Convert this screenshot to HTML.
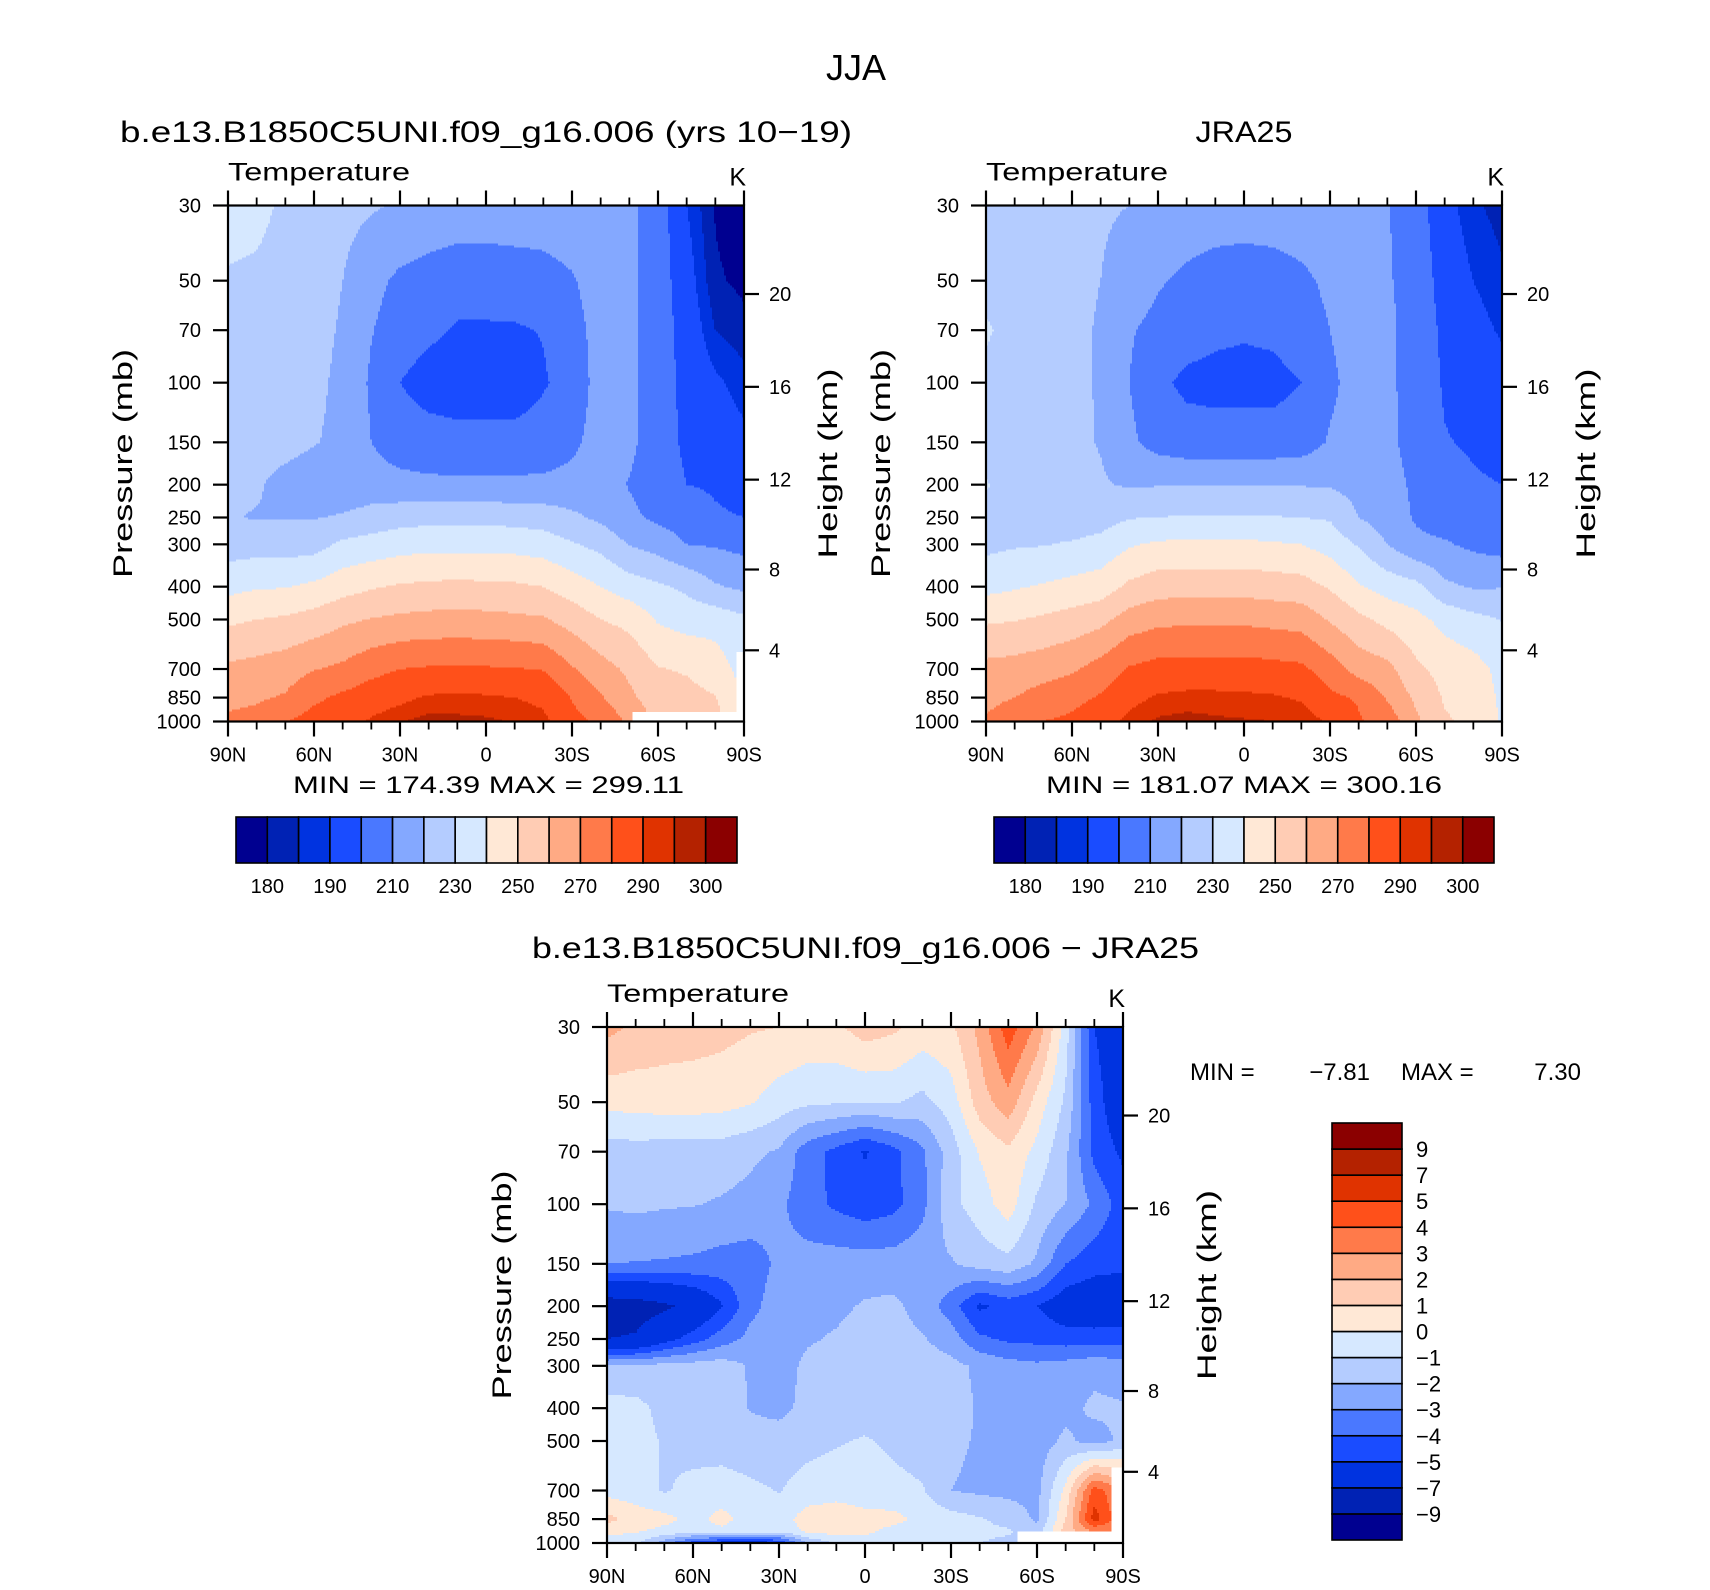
<!DOCTYPE html>
<html>
<head>
<meta charset="utf-8">
<style>
  html,body{margin:0;padding:0;background:#fff;}
  svg{display:block;font-family:"Liberation Sans","DejaVu Sans",sans-serif;}
</style>
</head>
<body>
<svg id="chart" width="1710" height="1590" viewBox="0 0 1710 1590" xmlns="http://www.w3.org/2000/svg">
  <rect x="0" y="0" width="1710" height="1590" fill="#fff"/>
  <text x="856" y="80" font-size="36" text-anchor="middle">JJA</text>
  <text x="120" y="142" font-size="30" textLength="732" lengthAdjust="spacingAndGlyphs">b.e13.B1850C5UNI.f09_g16.006 (yrs 10−19)</text>
  <text x="1244" y="142" font-size="30" text-anchor="middle" textLength="97" lengthAdjust="spacingAndGlyphs">JRA25</text>
  <text x="532" y="958" font-size="30" textLength="667" lengthAdjust="spacingAndGlyphs">b.e13.B1850C5UNI.f09_g16.006 − JRA25</text>
  <text x="293" y="793" font-size="24" textLength="391" lengthAdjust="spacingAndGlyphs">MIN = 174.39   MAX = 299.11</text>
  <text x="1046" y="793" font-size="24" textLength="396" lengthAdjust="spacingAndGlyphs">MIN = 181.07   MAX = 300.16</text>
  <g font-size="24">
    <text x="1190" y="1080">MIN  =</text>
    <text x="1370" y="1080" text-anchor="end">−7.81</text>
    <text x="1401" y="1080">MAX  =</text>
    <text x="1581" y="1080" text-anchor="end">7.30</text>
  </g>
</svg>
<script>
// ---------- data ----------
const lats = [90,80,70,60,50,40,30,20,10,0,-10,-20,-30,-40,-50,-60,-70,-80,-90];
const presAbs = [30,50,70,100,150,200,250,300,400,500,700,850,1000];
const presDiff = [30,50,70,100,150,200,250,300,400,500,700,850,925,1000];

const modelT = [
 [234,233,228,225,223,221,219,217,216,216,216,216,217,218,212,205.5,190,179.5,175],
 [229,228,226,224,220,213,208,206,204,204,205,206,209,215,212,205,194,181,178.5],
 [227,226,225,223,219,210.5,205,202,199,199,199,200.5,206,214,212,205,196,185,182],
 [226,225,224,222,218,208.5,200,196,195,195,195,199,204,214,212,205,197,191.5,187],
 [225,224,223,220.5,218,210,205,204,203,203,203,204.5,208,214,212,205,198,195,192],
 [222,221,217,215,213,214,213,212,212,212,212,212,213,214,209.5,205.5,200,199,197],
 [220.5,219.5,219.6,219.5,221,224,226,227,227,227,226.5,225.5,222,218,212,208,205,201,200],
 [225,226,225.5,226,232,234,236,237,237,237,236.5,235,231,227,219.5,216,210,209,207],
 [237,239,239.5,242,246,249,251,252,252.5,252,251.5,250,245,240,235,231.5,228,221,218],
 [248,250,251.5,254,258,260.5,262,263,263,263,262,261,256,250,247,239,236,236,232],
 [262,263.5,265.5,269.5,272,277,280,281,281.5,281,280.5,279.5,271,264,258,250.5,249,245,236],
 [267,268.5,271,278,282,285.5,288,291,291.5,291,290,288,279.5,271,262,255,253,250.5,240],
 [272,274,279.5,284,287,291,294.5,297,296.5,296,294.5,292,283,278,268,258,257,253,244]
];

const jraT = [
 [225,224.5,223,222,221,220,217,216,215,215,215,216,217,217,210.5,205,193,186,183],
 [227,226,224,222.5,220,216,211,208,206,205,206,208,212,216,211,206,196,190,186],
 [231,227,225,222.5,219,211,207,204,202,201,202,205,210,215,212,206,198,193,189],
 [228,226,225,222.5,219,210,202,198,197,197,197,200,208,214,212,206,199,196,193],
 [227,226,225,222,219.5,212,206,204,204,204,204,205,211,214,212,206.5,200.5,199,197],
 [230.5,227,226,223,221,219,219.5,219.5,219.5,219.5,219.5,219.5,219,216.5,214,208,203,201,200],
 [228,227,226,224,226,229.5,230,231,231,231,230.5,230,229,220,215,209,206,204,202],
 [227.5,229,229.5,231,233,239,241.5,242,242,242,241,240,236,229,220,212,211,208,206],
 [237,239,241,243,245,252,255.5,256,256,256,255,254,249,241,236,233,222,219,219.5],
 [248.5,249.5,251.5,254,257,264.5,267.5,268,268,268,267,266,259,252.5,247,243,237,233,229.5],
 [263,264,266,268.5,274,281,283.5,284,284,284,283,282,275,266,263,252,246.5,244,237],
 [267.5,270,274,277,281,287.5,291,292,292,291.5,291,289,282,279,269,258,249,247,238],
 [271,276,280,282,287,292,296,297,296,295.5,295,294,289,281,276,262,251,248,239]
];

const diffT = [
 [2.3,1.8,1.5,1.4,1.3,1.1,1.0,0.7,0.8,1.5,1.2,0.6,0.8,2.3,4.6,2.8,-0.5,-5,-6],
 [0.3,0.4,0.5,0.5,0.4,0.1,-0.5,-0.8,-0.9,-1.0,-0.9,-1.3,-0.5,1.5,2.6,0.6,-1.2,-4.5,-6],
 [-1.5,-1.4,-1.5,-1.5,-1.5,-1.8,-2.1,-3.6,-4.3,-5.1,-4.3,-3.2,-1.5,0.1,0.8,-0.3,-1.8,-4.3,-5.2],
 [-1.9,-1.8,-1.9,-1.95,-2.1,-2.3,-2.8,-3.6,-4.2,-4.6,-4.3,-3.3,-1.3,-0.5,0.5,-1.2,-2.0,-3.2,-4.5],
 [-3.0,-3.05,-3.1,-3.2,-3.4,-3.5,-2.8,-2.6,-2.5,-2.5,-2.5,-2.3,-2.1,-1.6,-1.3,-2.2,-4.0,-4.6,-4.8],
 [-8.0,-7.8,-7.3,-6.5,-5.1,-3.3,-2.5,-2.3,-2.2,-1.9,-1.8,-2.4,-3.5,-5.2,-4.6,-5.0,-5.8,-6.0,-5.8],
 [-7,-6.8,-5.5,-4.5,-3.5,-2.7,-2.4,-2.1,-1.9,-1.6,-1.6,-1.9,-2.5,-3.8,-4.2,-4.3,-4.5,-4.5,-4.5],
 [-1.9,-1.8,-1.7,-1.6,-1.5,-2.1,-2.4,-1.8,-1.6,-1.5,-1.5,-1.5,-1.7,-2.2,-2.6,-2.8,-2.6,-2.3,-2.5],
 [-0.6,-0.7,-1.3,-1.5,-1.6,-2.05,-2.3,-1.7,-1.6,-1.5,-1.5,-1.5,-1.6,-2.1,-2.4,-2.4,-2.3,-1.8,-1.9],
 [-0.6,-0.6,-1.1,-1.4,-1.5,-1.6,-1.5,-1.3,-1.1,-0.9,-1.2,-1.5,-1.8,-2.1,-2.3,-2.5,-1.8,-2.4,-1.8],
 [-0.4,-0.6,-1.1,-0.7,-0.5,-0.8,-1.05,-0.6,-0.4,-0.5,-0.7,-0.9,-2.0,-2.2,-2.3,-2.3,0.3,4.5,3],
 [1.3,0.6,0.3,-0.3,0.3,-0.4,-0.5,0.5,0.6,0.3,0.3,-0.3,-0.6,-0.9,-1.3,-2.2,1.0,5.5,3],
 [0.3,0.1,-0.3,-0.5,-0.2,-0.6,-0.7,0.2,0.4,0.2,-0.3,-0.5,-0.6,-0.8,-0.9,-1.5,1.5,3,3],
 [-0.5,-0.8,-2.5,-4.5,-5.5,-6,-5,-2,-0.8,-0.5,-0.6,-0.8,-0.8,-1,-1.2,-1.5,1.5,3,3]
];

// missing (below ground) regions: [latA, latB, pressure threshold]
const missingModel = [[-50.6,-90,933],[-87,-90,620]];
const missingObs = [];
const missingDiff = [[-53,-90,926],[-86,-90,600]];

const levelsAbs = [180,185,190,200,210,220,230,240,250,260,270,280,290,295,300];
const levelsDiff = [-9,-7,-5,-4,-3,-2,-1,0,1,2,3,4,5,7,9];
const fillColors = ['#000090','#0022b4','#0033e0','#1a4cff','#4a78ff','#84a8ff','#b4ccff','#d6e8ff',
                    '#ffe8d6','#ffccb4','#ffaa84','#ff7a4a','#ff501a','#e03300','#b42200','#8b0000'];
const absCbLabelIdx = [0,2,4,6,8,10,12,14];
const diffCbLabels = ['9','7','5','4','3','2','1','0','−1','−2','−3','−4','−5','−7','−9'];

const pTicks = [30,50,70,100,150,200,250,300,400,500,700,850,1000];
const pTickLabels = ['30','50','70','100','150','200','250','300','400','500','700','850','1000'];
const zTicks = [4,8,12,16,20];
const latMajor = [90,60,30,0,-30,-60,-90];
const latMajorLabels = ['90N','60N','30N','0','30S','60S','90S'];
const latMinor = [80,70,50,40,20,10,-10,-20,-40,-50,-70,-80];

// ---------- helpers ----------
const svg = document.getElementById('chart');
const NS = svg.namespaceURI;
function mk(tag, attrs, parent){
  const e = document.createElementNS(NS, tag);
  for (const k in attrs) e.setAttribute(k, attrs[k]);
  (parent || svg).appendChild(e);
  return e;
}
function txt(parent, x, y, s, size, anchor, extra){
  const a = {x:x, y:y, 'font-size':size, 'text-anchor':anchor||'start', fill:'#000'};
  if (extra) for (const k in extra) a[k] = extra[k];
  const t = mk('text', a, parent);
  t.textContent = s;
  return t;
}
const LOGR = Math.log(1000/30);
function zToP(z){
  if (z <= 11) return 1013.25*Math.pow(1-0.0065*z*1000/288.15, 5.2559);
  return 226.32*Math.exp(-(z-11)*1000/6341.6);
}

function drawPanel(cfg){
  const g = mk('g', {});
  
  
  const x0 = cfg.x, y0 = cfg.y, S = cfg.size;
  const yOfP = p => y0 + S*Math.log(p/30)/LOGR;
  const xOfLat = lat => x0 + S*(90-lat)/180;

  const fillG = mk('g', {'shape-rendering':'crispEdges'}, g);
  
  
  const step = 2, n = Math.round(S/step);
  const pres = cfg.pres, grid = cfg.grid, lv = cfg.levels;
  for (let r = 0; r < n; r++){
    const fy = (r+0.5)/n;
    const p = 30*Math.exp(fy*LOGR);
    let i = 0; while (i < pres.length-2 && p > pres[i+1]) i++;
    const ty = Math.min(1, Math.max(0, Math.log(p/pres[i])/Math.log(pres[i+1]/pres[i])));
    let runStart = 0, runCi = null;
    const flush = (endC) => {
      if (runCi !== null && runCi >= 0){
        const rc = mk('rect', {x:(x0+runStart*step).toFixed(2), y:(y0+r*step).toFixed(2),
          width:((endC-runStart)*step+0.6).toFixed(2), height:step+0.6, fill:fillColors[runCi]}, fillG);
        
        
      }
    };
    for (let c = 0; c < n; c++){
      const fx = (c+0.5)/n;
      const lat = 90 - fx*180;
      let ci;
      let miss = false;
      for (const m of cfg.missing){
        const lo = Math.min(m[0],m[1]), hi = Math.max(m[0],m[1]);
        if (lat >= lo && lat <= hi && p >= m[2]) miss = true;
      }
      if (miss) ci = -1;
      else {
        let j = 0; while (j < lats.length-2 && lat < lats[j+1]) j++;
        const tx = (lats[j]-lat)/(lats[j]-lats[j+1]);
        const v00 = grid[i][j], v01 = grid[i][j+1], v10 = grid[i+1][j], v11 = grid[i+1][j+1];
        const v = (v00*(1-tx)+v01*tx)*(1-ty) + (v10*(1-tx)+v11*tx)*ty;
        ci = 0; for (const l of lv) if (v >= l) ci++;
      }
      if (ci !== runCi){ flush(c); runStart = c; runCi = ci; }
    }
    flush(n);
  }

  const frame = mk('rect', {x:x0, y:y0, width:S, height:S, fill:'none', stroke:'#000', 'stroke-width':2.2}, g);
  
  

  const pAxis = mk('g', {}, g);
  
  
  pTicks.forEach((p, k) => {
    const y = yOfP(p);
    const tk = mk('line', {x1:x0-15, x2:x0, y1:y, y2:y, stroke:'#000', 'stroke-width':2.2}, pAxis);
    
    
    const lb = txt(pAxis, x0-27, y+7, pTickLabels[k], 20, 'end');
    
    
  });
  const pt = txt(g, 0, 0, 'Pressure  (mb)', 27, 'middle',
    {transform:'translate(' + (x0-96) + ',' + (y0+S/2) + ') rotate(-90)', textLength:229, lengthAdjust:'spacingAndGlyphs'});
  
  

  const zAxis = mk('g', {}, g);
  
  
  zTicks.forEach(z => {
    const y = yOfP(zToP(z));
    const tk = mk('line', {x1:x0+S, x2:x0+S+15, y1:y, y2:y, stroke:'#000', 'stroke-width':2.2}, zAxis);
    
    
    const lb = txt(zAxis, x0+S+25, y+7, String(z), 20, 'start');
    
    
  });
  const ht = txt(g, 0, 0, 'Height  (km)', 27, 'middle',
    {transform:'translate(' + (x0+S+93) + ',' + (y0+S/2) + ') rotate(-90)', textLength:190, lengthAdjust:'spacingAndGlyphs'});
  
  

  const lAxis = mk('g', {}, g);
  
  
  latMajor.forEach((lat, k) => {
    const x = xOfLat(lat);
    const t1 = mk('line', {x1:x, x2:x, y1:y0-15, y2:y0, stroke:'#000', 'stroke-width':2.2}, lAxis);
    
    
    const t2 = mk('line', {x1:x, x2:x, y1:y0+S, y2:y0+S+15, stroke:'#000', 'stroke-width':2.2}, lAxis);
    
    
    const lb = txt(lAxis, x, y0+S+40, latMajorLabels[k], 20, 'middle');
    
    
  });
  latMinor.forEach(lat => {
    const x = xOfLat(lat);
    const t1 = mk('line', {x1:x, x2:x, y1:y0-8, y2:y0, stroke:'#000', 'stroke-width':1.8}, lAxis);
    
    
    const t2 = mk('line', {x1:x, x2:x, y1:y0+S, y2:y0+S+8, stroke:'#000', 'stroke-width':1.8}, lAxis);
    
    
  });

  const vt = txt(g, x0, y0-25, 'Temperature', 25, 'start', {textLength:182, lengthAdjust:'spacingAndGlyphs'});
  
  
  const ut = txt(g, x0+S+2, y0-20, 'K', 25, 'end');
  
  
}

function drawHColorbar(name, x0, y0, w, h){
  const g = mk('g', {});
  
  
  const bw = w/fillColors.length;
  fillColors.forEach((c, k) => {
    const r = mk('rect', {x:x0+k*bw, y:y0, width:bw, height:h, fill:c, stroke:'#000', 'stroke-width':1.6}, g);
    
    
  });
  absCbLabelIdx.forEach(k => {
    const lb = txt(g, x0+(k+1)*bw, y0+h+30, String(levelsAbs[k]), 20, 'middle');
    
    
  });
}

function drawVColorbar(name, x0, y0, w, h){
  const g = mk('g', {});
  
  
  const bh = h/fillColors.length;
  const n = fillColors.length;
  fillColors.forEach((c, k) => {
    const r = mk('rect', {x:x0, y:y0+(n-1-k)*bh, width:w, height:bh, fill:c, stroke:'#000', 'stroke-width':1.6}, g);
    
    
  });
  diffCbLabels.forEach((s, k) => {
    const lb = txt(g, x0+w+14, y0+(k+1)*bh+8, s, 22, 'start');
    
    
  });
}

drawPanel({name:'model-panel', x:228, y:205.5, size:516, pres:presAbs, grid:modelT, levels:levelsAbs, missing:missingModel});
drawPanel({name:'obs-panel', x:986, y:205.5, size:516, pres:presAbs, grid:jraT, levels:levelsAbs, missing:missingObs});
drawPanel({name:'diff-panel', x:607, y:1027, size:516, pres:presDiff, grid:diffT, levels:levelsDiff, missing:missingDiff});
drawHColorbar('model-colorbar', 236, 817, 501, 46);
drawHColorbar('obs-colorbar', 994, 817, 500, 46);
drawVColorbar('diff-colorbar', 1332, 1123, 70, 417);
</script>
</body>
</html>
